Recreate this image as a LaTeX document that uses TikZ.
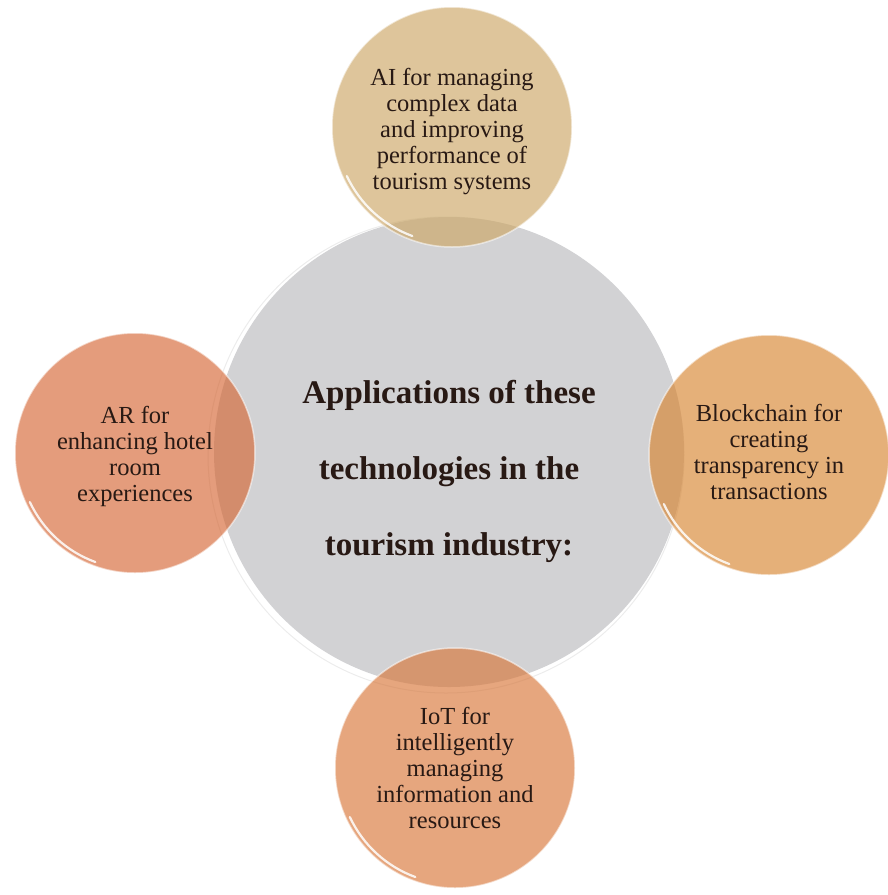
\documentclass[tikz,border=0pt]{standalone}
\usepackage{fontspec}
\usetikzlibrary{calc}
\setmainfont{Liberation Serif}
\definecolor{cgray}{RGB}{210,210,212}
\definecolor{ctop}{RGB}{204,166,101}
\definecolor{cleft}{RGB}{213,103,53}
\definecolor{cright}{RGB}{215,133,49}
\definecolor{cbottom}{RGB}{216,118,57}
\definecolor{ctext}{RGB}{40,25,20}
\begin{document}
\begin{tikzpicture}[x=1pt,y=-1pt,
  bubble/.style={circle, inner sep=0pt, minimum size=240pt, fill opacity=0.65, draw=white, draw opacity=0.55, line width=1.5pt},
  smalltext/.style={align=center, text=ctext, font=\fontsize{24.5}{26}\selectfont, inner sep=0pt},
  bigtext/.style={align=center, text=ctext, font=\bfseries\fontsize{33}{76}\selectfont, inner sep=0pt},
  shine/.style={white, line width=2.2pt, opacity=0.85, line cap=round}]
\useasboundingbox (0,0) rectangle (888,895);
% central circle
\draw[white!85!gray, line width=1pt] (446,455) circle[radius=238];
\node[circle, inner sep=0pt, minimum size=470pt, fill=cgray] (hub) at (449,452) {};
% satellites
\node[bubble, fill=ctop] (ai) at (452,127) {};
\node[bubble, fill=cleft] (ar) at (135,453) {};
\node[bubble, fill=cright] (bc) at (769,455) {};
\node[bubble, fill=cbottom] (iot) at (455,768) {};
% highlights (lower left)
\foreach \c in {ai,ar,bc,iot}{
  \draw[shine] ($(\c)+(110:116)$) arc[start angle=110, end angle=155, radius=116];
}
% texts
\node[bigtext] (hubtext) at (449,471) {Applications of these\\technologies in the\\tourism industry:};
\node[smalltext] (aitext) at (452,132) {AI for managing\\complex data\\and improving\\performance of\\tourism systems};
\node[smalltext] (artext) at (135,456) {AR for\\enhancing hotel\\room\\experiences};
\node[smalltext] (bctext) at (769,452) {Blockchain for\\creating\\transparency in\\transactions};
\node[smalltext] (iottext) at (455,768) {IoT for\\intelligently\\managing\\information and\\resources};
\end{tikzpicture}
\end{document}
